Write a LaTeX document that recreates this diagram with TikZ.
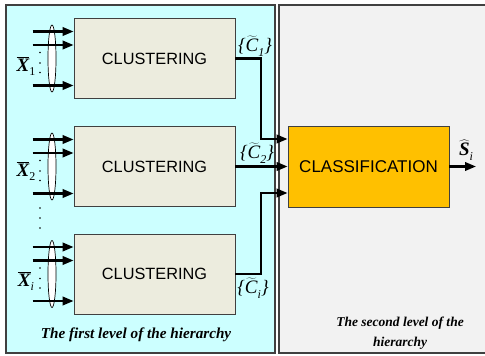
\documentclass[tikz,border=0pt]{standalone}
\usepackage{fontspec}
\setmainfont{Liberation Serif}
\newfontfamily\arialfont{Liberation Sans}
\usetikzlibrary{shapes.geometric,arrows.meta,calc}
\definecolor{panelcyan}{HTML}{CCFFFF}
\definecolor{panelgray}{HTML}{F2F2F2}
\definecolor{boxbeige}{HTML}{ECECDE}
\definecolor{boxorange}{HTML}{FFC000}
\definecolor{edgegray}{HTML}{404040}
% input vector label: bold italic X with a bar and a subscript
\newcommand\vecX[1]{$\overline{\hbox{\bfseries\itshape X}}$\raisebox{-0.5ex}{\fontsize{12}{12}\selectfont #1}}
% cluster set label: {C~_k}
\newcommand\clset[1]{\itshape\{$\widetilde{\hbox{\itshape C}}$\raisebox{-0.5ex}{\fontsize{12}{12}\selectfont #1}\}}
\begin{document}
\begin{tikzpicture}[x=1pt,y=-1pt,
  panel/.style={draw=edgegray,line width=1.3pt},
  clusterbox/.style={draw=edgegray,line width=0.9pt,fill=boxbeige,
    minimum width=161pt,minimum height=80pt,inner sep=0pt,
    font=\arialfont\fontsize{16.3}{18}\selectfont},
  classbox/.style={draw=edgegray,line width=0.9pt,fill=boxorange,
    minimum width=161pt,minimum height=81pt,inner sep=0pt,
    font=\arialfont\fontsize{17}{19}\selectfont},
  arr/.style={line width=2.2pt,-{Triangle[length=11pt,width=8.5pt]}},
  bundle/.style={draw,ellipse,fill=white,minimum width=8pt,minimum height=67pt,
    inner sep=0pt,line width=0.7pt},
  vdot/.style={circle,fill=black,inner sep=0pt,minimum size=1.7pt},
  mathlbl/.style={inner sep=0pt,font=\fontsize{19}{21}\selectfont},
  caption/.style={align=center,font=\bfseries\itshape\fontsize{#1}{20}\selectfont},
  caption/.default=13]
\useasboundingbox (0,0) rectangle (485,356);

% the two levels
\fill[panelcyan] (6,5) rectangle (275,353);
\draw[panel] (6,5) rectangle (275,353);
\fill[panelgray] (279,5) rectangle (485,353);
\draw[panel] (486,5) -- (279,5) -- (279,353) -- (486,353);

% first level: clustering blocks with their input bundles
\foreach \b/\cy in {1/58.5,2/166.5,3/274}{
  \node[clusterbox] (c\b) at (154.5,\cy) {CLUSTERING};
  \node[bundle] (e\b) at (52,\cy) {};
  \foreach \dy in {-27,-13.5,27}
    \draw[arr] ($(c\b.west)+(-41,\dy)$) -- ($(c\b.west)+(0,\dy)$);
  \foreach \dy [count=\k] in {-6,4.5,14}
    \node[vdot] (d\b\k) at (40,\cy+\dy) {};
}
\node[vdot] (g1) at (40,208) {};
\node[vdot] (g2) at (40,218) {};
\node[vdot] (g3) at (40,228) {};

\node[mathlbl] (x1) at (26,66) {\vecX{1}};
\node[mathlbl] (x2) at (26,171) {\vecX{2}};
\node[mathlbl] (x3) at (26,281) {\vecX{\itshape i}};

% second level
\node[classbox] (cls) at (368.5,166.5) {CLASSIFICATION};

\coordinate (j1) at (261,139);
\coordinate (j3) at (261,193);
\draw[arr] (c1.east) -| (j1) -- (j1 -| cls.west);
\draw[arr] (c2.east) -- (cls.west);
\draw[arr] (c3.east) -| (j3) -- (j3 -| cls.west);

\node[mathlbl] (l1) at (255,46) {\clset{1}};
\node[mathlbl] (l2) at (257,153) {\clset{2}};
\node[mathlbl] (l3) at (253,288) {\clset{\itshape i}};

\coordinate (out) at (476,166.5);
\draw[arr] (cls.east) -- (out);
\node[mathlbl] (s) at (466,150) {$\widehat{\hbox{\bfseries\itshape S}}$\raisebox{-0.5ex}{\fontsize{12}{12}\selectfont\itshape i}};

% captions
\node[caption=15.2] (cap1) at (136,335) {The first level of the hierarchy};
\node[caption=13.5] (cap2) at (400,333) {The second level of the\\hierarchy};
\end{tikzpicture}
\end{document}
